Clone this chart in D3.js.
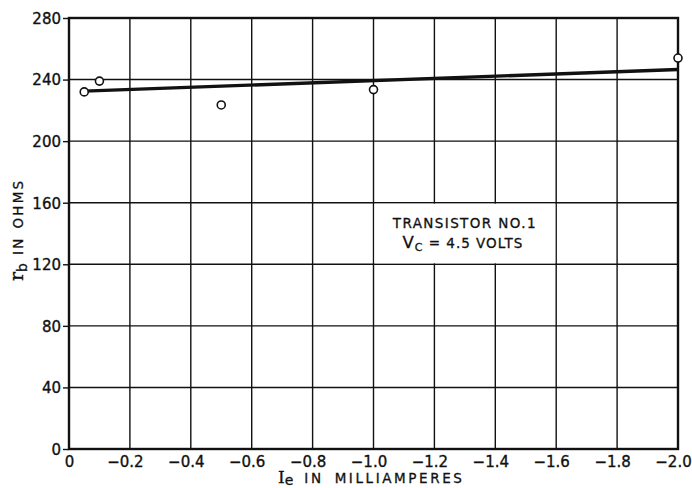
<!DOCTYPE html>
<html>
<head>
<meta charset="utf-8">
<script src="https://cdn.jsdelivr.net/npm/d3@7"></script>
<style>
  body { margin: 0; background: #fff; }
  svg { display: block; }
  .tick text, .lbl { font-family: "DejaVu Sans", sans-serif; fill: #111; }
  .tick text { stroke: #111; stroke-width: 0.35; }
  .lbl { stroke: #111; stroke-width: 0.3; }
  .grid line { stroke: #111; stroke-width: 1.4; }
</style>
</head>
<body>
<svg id="chart" width="692" height="488"></svg>
<script>
// data
const xTicks = [0, -0.2, -0.4, -0.6, -0.8, -1.0, -1.2, -1.4, -1.6, -1.8, -2.0];
const yTicks = [0, 40, 80, 120, 160, 200, 240, 280];
const pointsIe = [-0.05, -0.1, -0.5, -1.0, -2.0];
const pointsRb = [232, 239, 223.5, 233.5, 254];
const fitIe = [-0.05, -2.0];
const fitRb = [232.5, 246.5];
const noteLines = ["TRANSISTOR NO.1", "= 4.5 VOLTS"];

const margin = {top: 18, right: 14, bottom: 39, left: 69};
const width = 692 - margin.left - margin.right;
const height = 488 - margin.top - margin.bottom;

const svg = d3.select("#chart");
const chart = svg.append("g").attr("transform", "translate(" + margin.left + "," + margin.top + ")");

const x = d3.scaleLinear().domain([0, -2.0]).range([0, width]);
const y = d3.scaleLinear().domain([0, 280]).range([height, 0]);

// grid
const grid = chart.append("g").attr("class", "grid");
grid.selectAll(".v").data(xTicks.slice(1, -1)).enter().append("line")
    .attr("x1", d => x(d)).attr("x2", d => x(d))
    .attr("y1", 0).attr("y2", height);
grid.selectAll(".h").data(yTicks.slice(1, -1)).enter().append("line")
    .attr("x1", 0).attr("x2", width)
    .attr("y1", d => y(d)).attr("y2", d => y(d));

// note box blanks out the grid behind it
chart.append("rect")
    .attr("x", x(-1.0) + 1).attr("y", y(160) + 1)
    .attr("width", x(-1.6) - x(-1.0) - 2).attr("height", y(120) - y(160) - 2)
    .attr("fill", "#fff");
const cx = (x(-1.0) + x(-1.6)) / 2;
chart.append("text").attr("class", "lbl")
    .attr("x", cx).attr("y", y(160) + 25)
    .attr("text-anchor", "middle").attr("font-size", 13.5).attr("letter-spacing", 1.4)
    .text(noteLines[0]);
const l2 = chart.append("text").attr("class", "lbl")
    .attr("x", cx - 2).attr("y", y(160) + 45)
    .attr("text-anchor", "middle").attr("font-size", 13.5).attr("letter-spacing", 1.0);
l2.append("tspan").attr("font-size", 16.5).text("V");
l2.append("tspan").attr("font-size", 11).attr("dy", 3).text("C");
l2.append("tspan").attr("dy", -3).text(" " + noteLines[1]);

// axes
const xAxis = d3.axisBottom(x).tickValues(xTicks).tickSize(0).tickPadding(7)
    .tickFormat(d => d === 0 ? "0" : "\u2212" + d3.format(".1f")(-d));
const yAxis = d3.axisLeft(y).tickValues(yTicks).tickSize(6).tickPadding(2);

const gx = chart.append("g").attr("transform", "translate(0," + height + ")").call(xAxis);
gx.select(".domain").remove();
gx.selectAll("text").attr("font-size", 15).attr("dx", d => d === 0 ? 0 : -5);

const gy = chart.append("g").call(yAxis);
gy.select(".domain").remove();
gy.selectAll("line").attr("stroke", "#111").attr("stroke-width", 1.4);
gy.selectAll("text").attr("font-size", 15).attr("dy", "0.36em");

// frame
chart.append("rect").attr("width", width).attr("height", height)
    .attr("fill", "none").attr("stroke", "#111").attr("stroke-width", 2.4);

// fitted line
const line = d3.line().x(d => x(d[0])).y(d => y(d[1]));
chart.append("path").datum(d3.zip(fitIe, fitRb))
    .attr("d", line).attr("fill", "none").attr("stroke", "#111").attr("stroke-width", 3.4);

// measured points
chart.selectAll(".pt").data(d3.zip(pointsIe, pointsRb)).enter().append("circle")
    .attr("cx", d => x(d[0])).attr("cy", d => y(d[1])).attr("r", 4)
    .attr("fill", "#fff").attr("stroke", "#111").attr("stroke-width", 1.6);

// axis titles
const xt = svg.append("text").attr("class", "lbl")
    .attr("x", 278).attr("y", 483).attr("text-anchor", "start")
    .attr("font-size", 13.5).attr("letter-spacing", 2.6);
xt.append("tspan").attr("font-family", "DejaVu Serif, serif").attr("font-size", 17).attr("letter-spacing", 0).text("I");
xt.append("tspan").attr("font-size", 14).attr("dy", 2).attr("letter-spacing", 0).text("e");
xt.append("tspan").attr("dy", -2).attr("dx", 11).text("IN");
xt.append("tspan").attr("dx", 11).text("MILLIAMPERES");

const yt = svg.append("text").attr("class", "lbl")
    .attr("transform", "translate(23,281) rotate(-90)").attr("text-anchor", "start")
    .attr("font-size", 13.5).attr("letter-spacing", 2.2);
yt.append("tspan").attr("font-family", "DejaVu Serif, serif").attr("font-size", 19).attr("letter-spacing", 0).text("r");
yt.append("tspan").attr("font-size", 14).attr("dy", 4).attr("letter-spacing", 0).text("b");
yt.append("tspan").attr("dy", -4).attr("dx", 8).text("IN");
yt.append("tspan").attr("dx", 8).text("OHMS");
</script>
</body>
</html>
